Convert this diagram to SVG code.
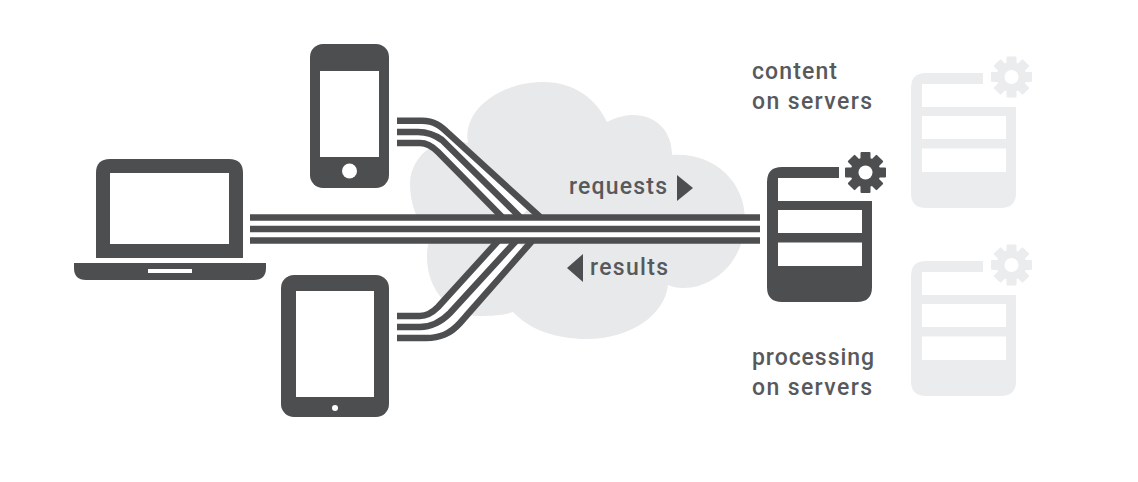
<svg xmlns="http://www.w3.org/2000/svg" width="1138" height="482" viewBox="0 0 1138 482">
<style>
.d{fill:#4d4e50}
.w{fill:#fff}
.c{fill:#e8e9ea}
.l{fill:none;stroke:#4d4e50;stroke-width:6.500}
.g{fill:none;stroke:#fff;stroke-width:20}
.t{font-family:"Roboto","Liberation Sans",sans-serif;font-size:23px;font-weight:500;fill:#58595b}
.f{fill:#ebeced}
</style>
<defs>
<g id="gear">
<circle r="15"/>
<rect x="-5" y="-20.500" width="10" height="41" rx="1"/>
<rect x="-5" y="-20.500" width="10" height="41" rx="1" transform="rotate(45)"/>
<rect x="-5" y="-20.500" width="10" height="41" rx="1" transform="rotate(90)"/>
<rect x="-5" y="-20.500" width="10" height="41" rx="1" transform="rotate(135)"/>
<circle r="7" fill="#fff"/>
</g>
<g id="server">
<path d="M72 0H15Q0 0 0 15V120Q0 135 15 135H90Q105 135 105 120V34H11V11H72Z"/>
<rect x="11" y="43" width="84" height="23" fill="#fff"/>
<rect x="11" y="75.500" width="84" height="23.500" fill="#fff"/>
</g>
</defs>
<rect width="1138" height="482" fill="#fff"/>
<g id="cloud" class="c">
<path d="M468 143C462 110 500 82 543 82C575 82 597 100 607 122C617 117 625 115 633 115C655 115 672 130 672 155C712 152 745 180 745 220C745 260 715 288 683 288C677 288 672 287 668 285C665 315 630 339 587 339C556 339 530 330 513 312C505 315 493 316 480 316C450 316 427 290 427 257C427 248 428 242 432 236C418 225 410 205 410 183C410 170 418 155 430 148C442 142 455 140 468 143Z"/>
</g>
<g id="connectors">
<path class="g" d="M397 132H418C428 132 435 135 442 140L520 217"/>
<path class="g" d="M397 327H420C432 327 441 322 450 313L516 241"/>
<path class="g" d="M250 229H760"/>
<g class="l">
<path d="M250 217.500H760M250 229H760M250 240.500H760"/>
<path d="M397 120.700H422C434 120.700 441 126 449 134L540 217M397 132H418C428 132 435 135 442 140L520 217M397 143H420C428 143 433 147 438 152L502 217"/>
<path d="M397 316H420C428 316 433 312 438 307L498 241M397 327H420C432 327 441 322 450 313L516 241M397 338H426C440 338 450 334 460 323L532 241"/>
</g>
</g>
<g id="laptop">
<path class="d" d="M96 258V173Q96 159 110 159H229Q243 159 243 173V258Z"/>
<rect class="w" x="110" y="173" width="119" height="71"/>
<path class="d" d="M74 263H266V268Q266 280 254 280H86Q74 280 74 268Z"/>
<rect class="w" x="148" y="269" width="44" height="4"/>
</g>
<g id="phone">
<rect class="d" x="310" y="44" width="79" height="144" rx="13"/>
<rect class="w" x="320" y="71" width="59" height="86"/>
<circle class="w" cx="349.500" cy="171" r="7.500"/>
</g>
<g id="tablet">
<rect class="d" x="281" y="275" width="108" height="142" rx="13"/>
<rect class="w" x="296" y="291" width="78" height="106"/>
<circle class="w" cx="335" cy="408" r="3"/>
</g>
<g id="main-server" class="d">
<use href="#server" x="767" y="167"/>
<use href="#gear" x="865.500" y="172.500"/>
</g>
<g id="content-server" class="f">
<use href="#server" x="911" y="73"/>
<use href="#gear" x="1011.500" y="77"/>
</g>
<g id="processing-server" class="f">
<use href="#server" x="911" y="261"/>
<use href="#gear" x="1011.500" y="265"/>
</g>
<g id="labels">
<text class="t" x="752" y="79" textLength="85">content</text>
<text class="t" x="752" y="109" textLength="120">on servers</text>
<text class="t" x="752" y="365" textLength="122">processing</text>
<text class="t" x="752" y="395" textLength="120">on servers</text>
<text class="t" x="569" y="194" textLength="98">requests</text>
<text class="t" x="590" y="275" textLength="78">results</text>
<path class="d" d="M677 175L693 188L677 201Z"/>
<path class="d" d="M583 254L567 268L583 282Z"/>
</g>
</svg>
